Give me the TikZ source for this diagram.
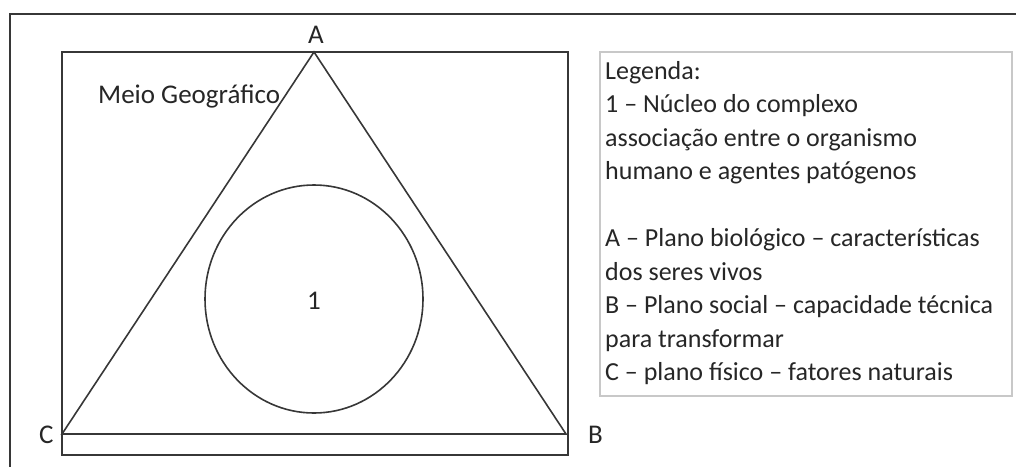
\documentclass[tikz,border=0pt]{standalone}
\usepackage{fontspec}
\setmainfont{Carlito}
\usepackage{xcolor}
\definecolor{inkgray}{RGB}{55,55,55}
\definecolor{boxgray}{RGB}{200,200,200}
\usetikzlibrary{positioning}

\begin{document}
\begin{tikzpicture}[
    x=1pt, y=-1pt,
    font=\fontsize{27}{33.5}\selectfont,
    framelines/.style={draw=inkgray, line width=2pt},
    edgelines/.style={draw=inkgray, line width=1.6pt, line join=miter},
    vertexlabel/.style={inner sep=0pt, text=black!85},
    legendbox/.style={draw=boxgray, line width=1.6pt, minimum width=412pt, minimum height=344pt, anchor=north west},
    legendtext/.style={inner sep=0pt, align=left, anchor=north west, text=black!85, font=\fontsize{26}{33.5}\selectfont}
  ]
  \useasboundingbox (0,0) rectangle (1016,466);

  % outer frame, cut by the page edge
  \draw[framelines] (1020,14) -- (10,14) -- (10,470);

  % geographic medium
  \node (meio) [draw=inkgray, line width=1.8pt, minimum width=506pt, minimum height=403pt, anchor=north west, inner sep=0pt] at (61,51) {};
  \node (meiolabel) [vertexlabel, anchor=base west] at (98,103) {Meio Geográfico};

  % planes
  \coordinate (A) at (314,52);
  \coordinate (B) at (566,434);
  \coordinate (C) at (62,434);
  \draw[edgelines] (A) -- (B) -- (C) -- cycle;
  \node (Alabel) [vertexlabel, anchor=base] at (316,43) {A};
  \node (Blabel) [vertexlabel, anchor=base west] at (588,443) {B};
  \node (Clabel) [vertexlabel, anchor=base west] at (39,443) {C};

  % nucleus
  \draw[edgelines] (314,299) ellipse [x radius=109, y radius=114];
  \node (nucleo) [vertexlabel] at (314,301) {1};

  % legend
  \node (legend) [legendbox] at (599,51) {};
  \node (legendlines) [legendtext] at ([xshift=6pt, yshift=-10pt]legend.north west) {Legenda:\\
    1 – Núcleo do complexo\\
    associação entre o organismo\\
    humano e agentes patógenos\\[33.5pt]
    A – Plano biológico – características\\
    dos seres vivos\\
    B – Plano social – capacidade técnica\\
    para transformar\\
    C – plano físico – fatores naturais};

\end{tikzpicture}
\end{document}
